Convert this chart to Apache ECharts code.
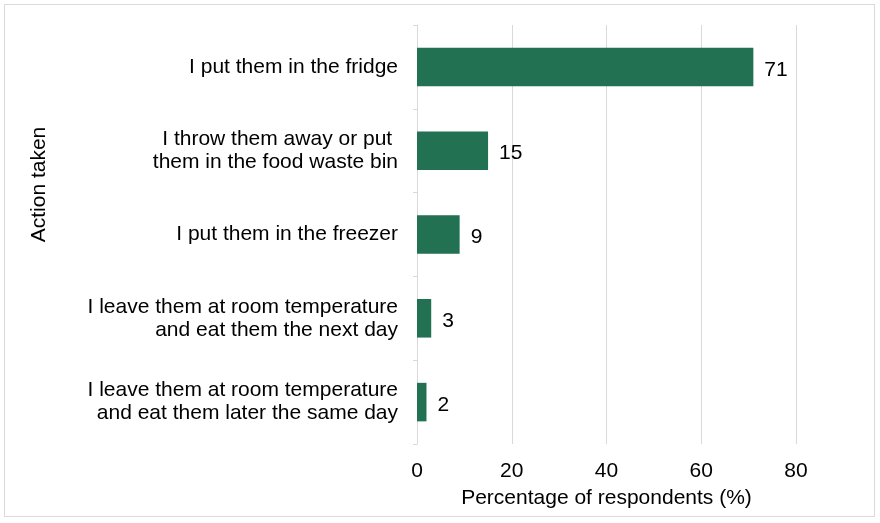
<!DOCTYPE html>
<html>
<head>
<meta charset="utf-8">
<script src="https://cdn.jsdelivr.net/npm/echarts@6/dist/echarts.min.js"></script>
<style>
  html, body { margin: 0; padding: 0; background: #fff; }
  #frame { position: absolute; left: 4px; top: 4px; width: 871px; height: 513px; border: 1px solid #d9d9d9; box-sizing: border-box; }
  #chart { position: absolute; left: 0; top: 0; width: 880px; height: 523px; }
</style>
</head>
<body>
<div id="frame"></div>
<div id="chart"></div>
<script>
// Top-to-bottom order as shown in the picture
const categories = [
  'I put them in the fridge',
  'I throw them away or put \nthem in the food waste bin',
  'I put them in the freezer',
  'I leave them at room temperature\nand eat them the next day',
  'I leave them at room temperature\nand eat them later the same day',
];
const values = [71, 15, 9, 3, 2];
const xTicks = { min: 0, max: 80, interval: 20 };

const font = '"Liberation Sans", Arial, sans-serif';
const chart = echarts.init(document.getElementById('chart'));

chart.setOption({
  animation: false,
  textStyle: { fontFamily: font },
  grid: { left: 417, right: 84, top: 25, bottom: 79, containLabel: false },
  xAxis: {
    type: 'value',
    min: xTicks.min,
    max: xTicks.max,
    interval: xTicks.interval,
    name: 'Percentage of respondents (%)',
    nameLocation: 'middle',
    nameGap: 44,
    nameTextStyle: { fontSize: 21, color: '#000', fontFamily: font },
    axisLine: { show: false },
    axisTick: { show: false },
    axisLabel: { fontSize: 21, color: '#000', margin: 17, fontFamily: font },
    splitLine: { show: true, lineStyle: { color: '#d9d9d9', width: 1 } },
  },
  yAxis: {
    type: 'category',
    inverse: true,
    data: categories,
    name: 'Action taken',
    nameLocation: 'middle',
    nameGap: 367,
    nameRotate: 90,
    // pushes the title up, it sits above the plot's middle in the original
    nameTextStyle: { fontSize: 21, color: '#000', fontFamily: font, padding: [0, 0, 0, 100] },
    axisLine: { show: true, lineStyle: { color: '#d9d9d9', width: 1 } },
    axisTick: { show: true, length: 4, lineStyle: { color: '#d9d9d9' } },
    axisLabel: { fontSize: 21, color: '#000', margin: 19, lineHeight: 23, align: 'right', fontFamily: font, padding: [5, 0, 0, 0] },
    splitLine: { show: false },
  },
  series: [{
    type: 'bar',
    data: values,
    barWidth: '46%',
    itemStyle: { color: '#217152' },
    label: {
      show: true,
      position: 'right',
      distance: 11,
      offset: [0, 3],
      fontSize: 21,
      color: '#000',
      fontFamily: font,
    },
  }],
});
</script>
</body>
</html>
